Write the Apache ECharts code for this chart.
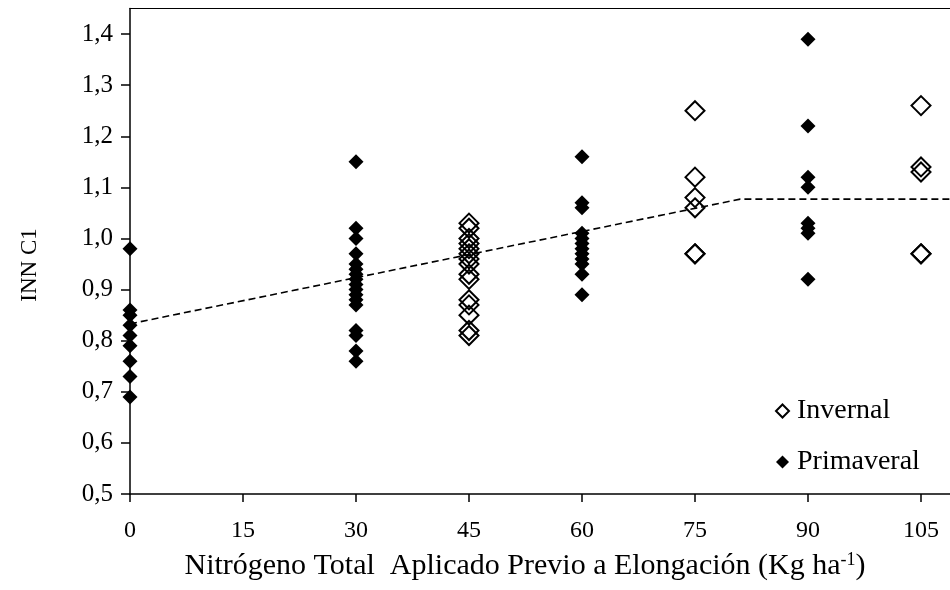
<!DOCTYPE html>
<html>
<head>
<meta charset="utf-8">
<script src="https://cdn.jsdelivr.net/npm/echarts@6/dist/echarts.min.js"></script>
<style>
  html, body { margin: 0; padding: 0; background: #fff; }
  #chart { width: 950px; height: 590px; }
</style>
</head>
<body>
<div id="chart"></div>
<script>
// INN C1 readings by nitrogen dose (kg N/ha applied before elongation)
const invernal45  = [1.03, 1.02, 1.00, 0.99, 0.98, 0.97, 0.96, 0.95, 0.93, 0.92, 0.88, 0.87, 0.85, 0.82, 0.81];
const invernal75  = [1.25, 1.12, 1.08, 1.06, 0.97, 0.97];
const invernal105 = [1.26, 1.14, 1.13, 0.97, 0.97];

const primaveral0  = [0.98, 0.86, 0.85, 0.83, 0.81, 0.79, 0.76, 0.73, 0.69];
const primaveral30 = [1.15, 1.02, 1.00, 0.97, 0.95, 0.94, 0.93, 0.92, 0.91, 0.90, 0.89, 0.88, 0.87, 0.82, 0.81, 0.78, 0.76];
const primaveral60 = [1.16, 1.07, 1.06, 1.01, 1.00, 0.99, 0.98, 0.97, 0.96, 0.95, 0.93, 0.89];
const primaveral90 = [1.39, 1.22, 1.12, 1.10, 1.03, 1.02, 1.01, 0.92];

// linear-plateau fit vertices
const fitX = [0, 81, 110];
const fitY = [0.833, 1.077, 1.077];

// axis ticks
const xTicks = [0, 15, 30, 45, 60, 75, 90, 105];
const yTicks = [0.5, 0.6, 0.7, 0.8, 0.9, 1.0, 1.1, 1.2, 1.3, 1.4];
const xMax = 108.85;
const yMin = 0.5;
const yMax = 1.45;

function pairs(dose, values) {
  return values.map(v => [dose, v]);
}

const invernalData = [].concat(
  pairs(45, invernal45), pairs(75, invernal75), pairs(105, invernal105));
const primaveralData = [].concat(
  pairs(0, primaveral0), pairs(30, primaveral30), pairs(60, primaveral60), pairs(90, primaveral90));
const fitData = fitX.map((x, i) => [x, fitY[i]]);

const FONT = '"Liberation Serif", "Times New Roman", serif';

const chart = echarts.init(document.getElementById('chart'), null, { renderer: 'canvas' });

chart.setOption({
  animation: false,
  backgroundColor: '#ffffff',
  textStyle: { fontFamily: FONT, color: '#000' },
  grid: { left: 130, right: 0, top: 8.5, bottom: 96 },
  xAxis: [
    {
      type: 'value',
      min: 0, max: xMax, interval: 15,
      axisLine: { show: true, onZero: false, lineStyle: { color: '#000', width: 1.5 } },
      axisTick: { show: true, inside: false, length: 8, customValues: xTicks,
                  lineStyle: { color: '#000', width: 1.5 } },
      axisLabel: { color: '#000', fontFamily: FONT, fontSize: 24, margin: 25,
                   customValues: xTicks },
      splitLine: { show: false }
    },
    {
      // upper frame line of the plot area
      type: 'value',
      position: 'top',
      min: 0, max: xMax,
      axisLine: { show: true, onZero: false, lineStyle: { color: '#000', width: 1.2 } },
      axisTick: { show: false },
      axisLabel: { show: false },
      splitLine: { show: false }
    }
  ],
  yAxis: {
    type: 'value',
    min: yMin, max: yMax, interval: 0.1,
    axisLine: { show: true, onZero: false, lineStyle: { color: '#000', width: 1.5 } },
    axisTick: { show: true, inside: false, length: 9, customValues: yTicks,
                lineStyle: { color: '#000', width: 1.5 } },
    axisLabel: {
      color: '#000', fontFamily: FONT, fontSize: 25, margin: 17, customValues: yTicks,
      formatter: v => v.toFixed(1).replace('.', ',')
    },
    splitLine: { show: false }
  },
  legend: {
    orient: 'vertical',
    left: 770, top: 392,
    itemGap: 23,
    itemWidth: 13, itemHeight: 13,
    selectedMode: false,
    textStyle: { fontFamily: FONT, fontSize: 28, color: '#000', padding: [0, 0, 0, 3] },
    data: ['Invernal', 'Primaveral']
  },
  graphic: [
    {
      type: 'text',
      x: 30, y: 265,
      rotation: Math.PI / 2,
      style: {
        text: 'INN C1',
        font: '23px ' + FONT,
        fill: '#000',
        textAlign: 'center', textVerticalAlign: 'middle',
        align: 'center', verticalAlign: 'middle'
      }
    },
    {
      type: 'text',
      x: 525, y: 566,
      style: {
        text: '{t|Nitrógeno Total  Aplicado Previo a Elongación (Kg ha}{s|-1}{t|)}',
        fill: '#000',
        textAlign: 'center', textVerticalAlign: 'middle',
        align: 'center', verticalAlign: 'middle',
        rich: {
          t: { fontFamily: FONT, fontSize: 30, fill: '#000', color: '#000' },
          s: { fontFamily: FONT, fontSize: 18, fill: '#000', color: '#000', verticalAlign: 'top', padding: [0, 0, 11, 0] }
        }
      }
    }
  ],
  series: [
    {
      name: 'Invernal',
      type: 'scatter',
      symbol: 'diamond',
      symbolSize: [19, 19],
      data: invernalData,
      itemStyle: { color: 'transparent', borderColor: '#000', borderWidth: 2, opacity: 1 },
      z: 3
    },
    {
      name: 'Primaveral',
      type: 'scatter',
      symbol: 'diamond',
      symbolSize: [15, 15],
      data: primaveralData,
      itemStyle: { color: '#000', borderColor: '#000', borderWidth: 0, opacity: 1 },
      z: 3
    },
    {
      name: 'Ajuste',
      type: 'line',
      data: fitData,
      showSymbol: false,
      symbol: 'none',
      lineStyle: { color: '#000', width: 1.6, type: [7, 4] },
      z: 4
    }
  ]
});
</script>
</body>
</html>
